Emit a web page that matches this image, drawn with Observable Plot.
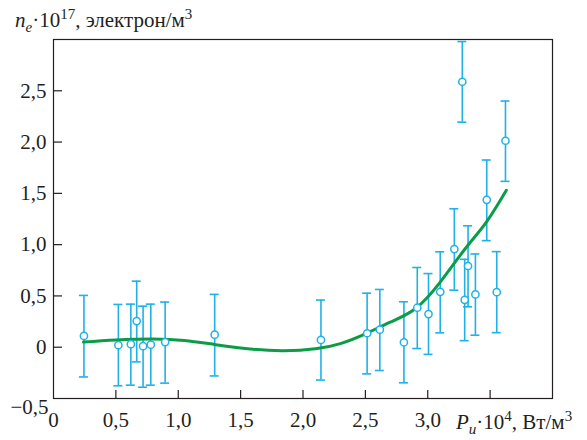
<!DOCTYPE html>
<html>
<head>
<meta charset="utf-8">
<script src="https://cdn.jsdelivr.net/npm/d3@7"></script>
<script src="https://cdn.jsdelivr.net/npm/@observablehq/plot@0.6"></script>
<style>
  html, body { margin: 0; padding: 0; background: #fff; }
  svg, svg text, svg tspan { font-family: "Liberation Serif", "DejaVu Serif", serif !important; }
</style>
</head>
<body>
<div id="chart"></div>
<script>
// Measured points: P_u·10^4 (x), n_e·10^17 (y), error bar ends
const pointsX = [0.244, 0.52, 0.62, 0.667, 0.718, 0.78, 0.895, 1.292, 2.144, 2.514, 2.616, 2.809, 2.916, 3.006, 3.10, 3.213, 3.277, 3.296, 3.323, 3.382, 3.473, 3.553, 3.623];
const pointsY = [0.11, 0.02, 0.03, 0.255, 0.01, 0.025, 0.05, 0.122, 0.071, 0.136, 0.171, 0.048, 0.385, 0.323, 0.54, 0.957, 2.588, 0.462, 0.792, 0.515, 1.437, 0.537, 2.013];
const errLow = [-0.29, -0.376, -0.37, -0.143, -0.39, -0.37, -0.35, -0.28, -0.32, -0.26, -0.227, -0.347, -0.013, -0.07, 0.14, 0.556, 2.194, 0.064, 0.394, 0.117, 1.039, 0.142, 1.617];
const errHigh = [0.505, 0.417, 0.42, 0.644, 0.40, 0.42, 0.44, 0.515, 0.46, 0.527, 0.563, 0.443, 0.777, 0.718, 0.93, 1.35, 2.98, 0.857, 1.184, 0.909, 1.825, 0.932, 2.40];

// Fitted trend curve
const curveX = [0.24, 0.5, 0.8, 1.05, 1.3, 1.6, 1.85, 2.1, 2.3, 2.5, 2.7, 2.9, 3.1, 3.3, 3.47, 3.63];
const curveY = [0.05, 0.07, 0.08, 0.065, 0.025, -0.02, -0.035, -0.015, 0.035, 0.13, 0.245, 0.375, 0.635, 0.96, 1.22, 1.53];

// Axis ticks
const xTicks = [0.5, 1.0, 1.5, 2.0, 2.5, 3.0, 3.5];
const xTickLabels = [0, 0.5, 1.0, 1.5, 2.0, 2.5, 3.0];
const yTicks = [0, 0.5, 1.0, 1.5, 2.0, 2.5];
const yTickLabels = [0, 0.5, 1.0, 1.5, 2.0, 2.5];
const yBottomLabel = [-0.5];

const points = pointsX.map((x, i) => ({x, y: pointsY[i], lo: errLow[i], hi: errHigh[i]}));
const curve = curveX.map((x, i) => ({x, y: curveY[i]}));

const W = 587, H = 440;
const mL = 53, mR = 35, mT = 39, mB = 42;
const plotW = W - mL - mR, plotH = H - mT - mB;
const blue = "#1fb1e8", green = "#0b9c47", ink = "#231f20";
const fmt = v => v === 0 ? "0" : (v < 0 ? "\u2212" : "") + Math.abs(v).toFixed(1).replace(".", ",");
const fs = 21, fsSmall = 15;
const serif = "Liberation Serif";

const svg = Plot.plot({
  width: W, height: H,
  marginLeft: mL, marginRight: mR, marginTop: mT, marginBottom: mB,
  x: {domain: [0, 4], axis: null},
  y: {domain: [-0.5, 3], axis: null},
  style: {fontFamily: serif, fontSize: fs + "px", color: ink},
  marks: [
    Plot.tickX(xTicks, {x: d => d, stroke: ink, strokeWidth: 1.2, insetTop: plotH - 8}),
    Plot.tickY(yTicks, {y: d => d, stroke: ink, strokeWidth: 1.2, insetRight: plotW - 9}),
    Plot.axisX(xTickLabels, {tickSize: 0, tickPadding: 14, tickFormat: fmt, fontSize: fs, fontFamily: serif, fill: ink, label: null}),
    Plot.axisY(yTickLabels, {tickSize: 0, tickPadding: 7, tickFormat: fmt, fontSize: fs, fontFamily: serif, fill: ink, label: null}),
    Plot.axisY(yBottomLabel, {tickSize: 0, tickPadding: 5, tickFormat: fmt, fontSize: fs, fontFamily: serif, fill: ink, dy: 9, label: null}),
    Plot.ruleX(points, {x: "x", y1: "lo", y2: "hi", stroke: blue, strokeWidth: 1.6}),
    Plot.ruleY(points, {y: "lo", x1: "x", x2: "x", insetLeft: -4.5, insetRight: -4.5, stroke: blue, strokeWidth: 1.6}),
    Plot.ruleY(points, {y: "hi", x1: "x", x2: "x", insetLeft: -4.5, insetRight: -4.5, stroke: blue, strokeWidth: 1.6}),
    Plot.line(curve, {x: "x", y: "y", curve: "natural", stroke: green, strokeWidth: 3}),
    Plot.dot(points, {x: "x", y: "y", r: 3.6, fill: "white", stroke: blue, strokeWidth: 1.5}),
    Plot.frame({stroke: ink, strokeWidth: 1.2})
  ]
});

const s = d3.select(svg).style("overflow", "visible");
function addTitle(x, y, parts) {
  const t = s.append("text").attr("x", x).attr("y", y).attr("font-size", fs)
    .attr("font-family", serif).attr("fill", ink)
    .attr("text-anchor", "start").style("text-anchor", "start");
  for (const p of parts) {
    const sp = t.append("tspan").text(p.text);
    if (p.italic) sp.attr("font-style", "italic");
    if (p.size) sp.attr("font-size", p.size);
    if (p.dy) sp.attr("dy", p.dy);
  }
}
// Y axis title
addTitle(15, 27, [
  {text: "n", italic: true},
  {text: "e", italic: true, size: fsSmall, dy: 5},
  {text: "\u00b710", dy: -5},
  {text: "17", size: fsSmall, dy: -8},
  {text: ", электрон/м", dy: 8},
  {text: "3", size: fsSmall, dy: -8}
]);
// X axis title
addTitle(456, 429, [
  {text: "P", italic: true},
  {text: "u", italic: true, size: fsSmall, dy: 5},
  {text: "\u00b710", dy: -5},
  {text: "4", size: fsSmall, dy: -8},
  {text: ", Вт/м", dy: 8},
  {text: "3", size: fsSmall, dy: -8}
]);

document.getElementById("chart").appendChild(svg);
</script>
</body>
</html>
